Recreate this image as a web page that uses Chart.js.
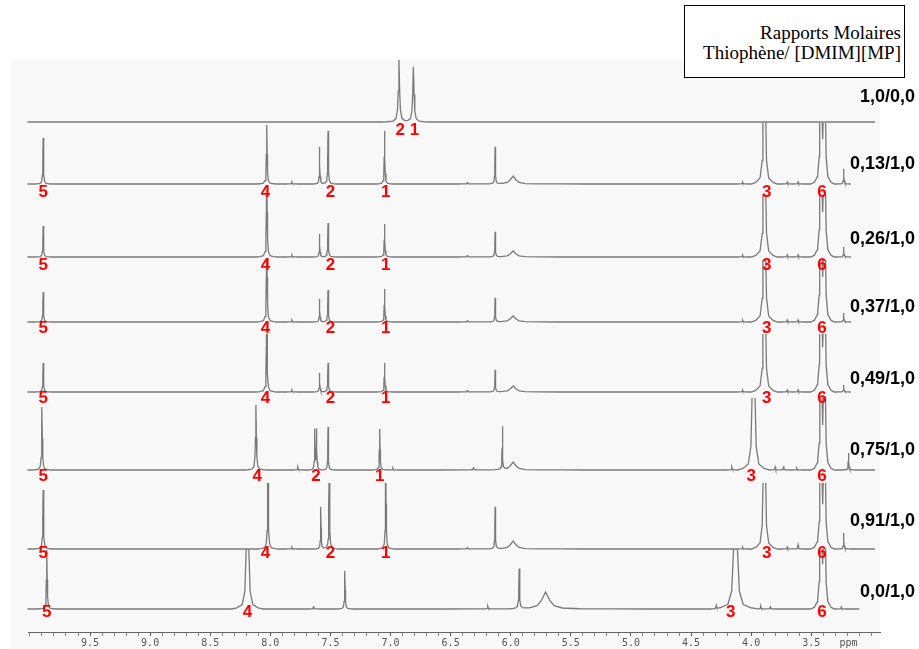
<!DOCTYPE html>
<html>
<head>
<meta charset="utf-8">
<script src="https://cdn.jsdelivr.net/npm/chart.js@4.4.1/dist/chart.umd.min.js"></script>
<style>
html,body{margin:0;padding:0;background:#fff;}
#wrap{position:relative;width:919px;height:649px;overflow:hidden;}
#c{position:absolute;left:0;top:0;}
#legend{position:absolute;left:684px;top:5px;width:221px;height:73px;box-sizing:border-box;border:1px solid #000;background:#fff;
  font-family:'Liberation Serif','Times New Roman',serif;font-size:19px;line-height:20px;text-align:right;padding:17px 3px 0 0;color:#000;white-space:nowrap;}
</style>
</head>
<body>
<div id="wrap">
<canvas id="c" width="919" height="649"></canvas>
<div id="legend">Rapports Molaires<br>Thiophène/ [DMIM][MP]</div>
</div>
<script>
// ---------------- DATA ----------------
// x-axis tick labels (ppm)
const ppmTickLabels = ['9.5','9.0','8.5','8.0','7.5','7.0','6.5','6.0','5.5','5.0','4.5','4.0','3.5'];
const ppmUnitLabel = 'ppm';
// molar ratio labels (thiophene / [DMIM][MP]), top to bottom
const ratioLabels = ['1,0/0,0','0,13/1,0','0,26/1,0','0,37/1,0','0,49/1,0','0,75/1,0','0,91/1,0','0,0/1,0'];

// peaks per spectrum: [chemical shift (ppm), intensity, line width FWHM (ppm)]
const peaks_1_0_0_0 = [[6.93,62,0.012],[6.81,55,0.012]];
const peaks_0_13_1_0 = [[9.89,46,0.006],[8.03,59,0.007],[7.82,2,0.006],[7.59,37,0.005],[7.52,53,0.006],[7.05,53,0.006],[6.36,2,0.006],[6.13,37,0.005],[5.98,8,0.05],[4.07,2,0.006],[3.89,400,0.009],[3.70,2,0.006],[3.61,2,0.006],[3.42,400,0.007],[3.39,400,0.007],[3.23,15,0.005]];
const peaks_0_26_1_0 = [[9.89,31,0.006],[8.03,90,0.007],[7.82,2,0.006],[7.59,23,0.005],[7.52,34,0.006],[7.05,33,0.006],[6.36,2,0.006],[6.13,25,0.005],[5.98,6,0.05],[4.07,2,0.006],[3.89,400,0.009],[3.70,2,0.006],[3.61,2,0.006],[3.42,400,0.007],[3.39,400,0.007],[3.23,10,0.005]];
const peaks_0_37_1_0 = [[9.89,30,0.006],[8.03,90,0.007],[7.82,2,0.006],[7.59,23,0.005],[7.52,32,0.006],[7.05,33,0.006],[6.36,2,0.006],[6.13,24,0.005],[5.98,6,0.05],[4.07,2,0.006],[3.89,400,0.009],[3.70,2,0.006],[3.61,2,0.006],[3.42,400,0.007],[3.39,400,0.007],[3.23,9,0.005]];
const peaks_0_49_1_0 = [[9.89,29,0.006],[8.03,90,0.007],[7.82,2,0.006],[7.59,19,0.005],[7.52,29,0.006],[7.05,29,0.006],[6.36,2,0.006],[6.13,22,0.005],[5.98,6,0.05],[4.07,2,0.006],[3.89,400,0.009],[3.70,2,0.006],[3.61,2,0.006],[3.42,400,0.007],[3.39,400,0.007],[3.23,7,0.005]];
const peaks_0_75_1_0 = [[9.90,63,0.007],[8.12,65,0.008],[7.77,3,0.006],[7.63,40,0.005],[7.615,40,0.005],[7.52,43,0.005],[7.09,41,0.006],[6.98,2,0.006],[6.31,3,0.006],[6.07,43,0.005],[5.98,8,0.05],[4.16,3,0.006],[3.98,400,0.011],[3.80,3,0.006],[3.73,4,0.006],[3.62,2,0.006],[3.42,400,0.007],[3.39,400,0.007],[3.19,17,0.005]];
const peaks_0_91_1_0 = [[9.89,59,0.007],[8.02,90,0.007],[7.82,2,0.006],[7.58,42,0.005],[7.51,90,0.006],[7.04,90,0.006],[6.36,2,0.006],[6.13,42,0.005],[5.98,8,0.05],[4.07,2,0.006],[3.89,400,0.009],[3.70,2,0.006],[3.61,4,0.006],[3.42,400,0.007],[3.39,400,0.007],[3.23,16,0.005]];
const peaks_0_0_1_0 = [[9.86,59,0.007],[8.19,300,0.011],[7.64,3,0.006],[7.38,38,0.006],[6.19,3,0.006],[5.93,40,0.007],[5.71,17,0.07],[4.29,3,0.006],[4.13,300,0.016],[3.92,3,0.006],[3.84,3,0.006],[3.42,400,0.007],[3.39,400,0.007],[3.25,2,0.006]];

// peak assignment labels per spectrum: [label, ppm]
const assign_1_0_0_0 = [['2',6.92],['1',6.80]];
const assign_0_13_1_0 = [['5',9.89],['4',8.04],['2',7.50],['1',7.04],['3',3.87],['6',3.41]];
const assign_0_26_1_0 = [['5',9.89],['4',8.04],['2',7.50],['1',7.04],['3',3.87],['6',3.41]];
const assign_0_37_1_0 = [['5',9.89],['4',8.04],['2',7.50],['1',7.04],['3',3.87],['6',3.41]];
const assign_0_49_1_0 = [['5',9.89],['4',8.04],['2',7.50],['1',7.04],['3',3.87],['6',3.41]];
const assign_0_75_1_0 = [['5',9.89],['4',8.11],['2',7.62],['1',7.09],['3',4.00],['6',3.41]];
const assign_0_91_1_0 = [['5',9.89],['4',8.04],['2',7.50],['1',7.04],['3',3.87],['6',3.41]];
const assign_0_0_1_0 = [['5',9.86],['4',8.19],['3',4.17],['6',3.41]];

// ---------------- LAYOUT ----------------
const SPECTRA = [peaks_1_0_0_0,peaks_0_13_1_0,peaks_0_26_1_0,peaks_0_37_1_0,peaks_0_49_1_0,peaks_0_75_1_0,peaks_0_91_1_0,peaks_0_0_1_0];
const ASSIGN = [assign_1_0_0_0,assign_0_13_1_0,assign_0_26_1_0,assign_0_37_1_0,assign_0_49_1_0,assign_0_75_1_0,assign_0_91_1_0,assign_0_0_1_0];
const ROW_OFFSET = [510,448,375,310,240,162,83,23];       // vertical stacking offset (y units)
const ROW_CLIP   = [Infinity,61,62,62,58,72,66,60];      // plot clipping height per trace
const ROW_START  = 10.02;
const ROW_END    = [2.97,3.17,3.17,3.17,3.17,2.97,2.97,3.10];
const LABEL_DY   = [8,8,8,6,6,6,4,3];                     // px below baseline
const RATIO_Y    = [535,468,393,325,253,182,111,40];      // y units for right-hand labels
const X_MIN = 2.928, X_MAX = 10.016, Y_MAX = 572;
const PPM_LABEL_POS = 3.19;

// Lorentzian-like vertex template for drawing a peak (offsets in units of FWHM)
const SHAPE_OFF = [-12,-8,-4,-2,-1,-0.5,0,0.5,1,2,4,8,12];
const SHAPE_REL = [0,0.004,0.015,0.059,0.2,0.5,1,0.5,0.2,0.059,0.015,0.004,0];

function peakAt(pk, x){
  const d = (x - pk[0]) / pk[2];
  if (d <= SHAPE_OFF[0] || d >= SHAPE_OFF[SHAPE_OFF.length-1]) return 0;
  for (let i=0;i<SHAPE_OFF.length-1;i++){
    if (d >= SHAPE_OFF[i] && d <= SHAPE_OFF[i+1]){
      const t = (d - SHAPE_OFF[i])/(SHAPE_OFF[i+1]-SHAPE_OFF[i]);
      return pk[1]*(SHAPE_REL[i] + t*(SHAPE_REL[i+1]-SHAPE_REL[i]));
    }
  }
  return 0;
}
function buildTrace(peaks, offset, clip, x0, x1){
  let xs = [x0, x1];
  peaks.forEach(pk => SHAPE_OFF.forEach(o => { const x = pk[0] + o*pk[2]; if (x < x0 && x > x1) xs.push(x); }));
  xs.sort((a,b)=>b-a);
  xs = xs.filter((x,i)=> i===0 || Math.abs(x - xs[i-1]) > 1e-9);
  const v = xs.map(x => ({x, y: peaks.reduce((s,pk)=> s + peakAt(pk,x), 0)}));
  const out = [];
  for (let i=0;i<v.length;i++){
    const a = v[i];
    if (i>0){
      const b = v[i-1];
      if ((b.y <= clip) !== (a.y <= clip)){
        const t = (clip - b.y)/(a.y - b.y);
        const xi = b.x + t*(a.x - b.x);
        out.push({x: xi, y: clip + offset});
        if (a.y > clip) out.push({x: xi, y: null});
      }
    }
    if (a.y <= clip) out.push({x: a.x, y: a.y + offset});
  }
  return out;
}

const datasets = SPECTRA.map((pk,i)=>({
  label: ratioLabels[i],
  data: buildTrace(pk, ROW_OFFSET[i], ROW_CLIP[i], ROW_START, ROW_END[i]),
  borderColor: '#7a7a7a',
  borderWidth: 1.3,
  pointRadius: 0,
  tension: 0,
  spanGaps: false,
  clip: false
}));

// tick values: minor every 0.1 ppm, labels every 0.5 ppm
const tickValues = [];
for (let k=100;k>=30;k--) tickValues.push(k/10);
tickValues.push(PPM_LABEL_POS);
const tickLabelMap = {};
ppmTickLabels.forEach(l => tickLabelMap[parseFloat(l).toFixed(2)] = l);
tickLabelMap[PPM_LABEL_POS.toFixed(2)] = ppmUnitLabel;

const decor = {
  id: 'decor',
  beforeDraw(chart){
    const ctx = chart.ctx;
    ctx.save();
    ctx.fillStyle = '#ffffff';
    ctx.fillRect(0,0,chart.width,chart.height);
    ctx.fillStyle = '#f8f8f8';
    ctx.fillRect(10,60,870,589);
    ctx.restore();
  },
  afterDatasetsDraw(chart){
    const {ctx, scales:{x, y}} = chart;
    ctx.save();
    ctx.font = 'bold 17px "Liberation Sans", Arial, sans-serif';
    ctx.fillStyle = '#ff0000';
    ctx.textAlign = 'center';
    ctx.textBaseline = 'middle';
    ASSIGN.forEach((labs,i)=>{
      const by = y.getPixelForValue(ROW_OFFSET[i]) + LABEL_DY[i];
      labs.forEach(([t,p]) => ctx.fillText(t, x.getPixelForValue(p), by));
    });
    ctx.font = 'bold 18px "Liberation Sans", Arial, sans-serif';
    ctx.fillStyle = '#000000';
    ctx.textAlign = 'right';
    ratioLabels.forEach((t,i)=> ctx.fillText(t, 915, y.getPixelForValue(RATIO_Y[i])));
    ctx.restore();
  }
};

new Chart(document.getElementById('c'), {
  type: 'line',
  data: { datasets },
  plugins: [decor],
  options: {
    responsive: false,
    devicePixelRatio: 1,
    animation: false,
    events: [],
    layout: { padding: { left: 28, right: 39, top: 60, bottom: 0 } },
    plugins: { legend: { display: false }, tooltip: { enabled: false } },
    scales: {
      x: {
        type: 'linear', reverse: true, min: X_MIN, max: X_MAX, position: 'bottom',
        afterBuildTicks(s){ s.ticks = tickValues.map(v => ({value: v})); },
        afterFit(s){ s.height = 17; },
        ticks: {
          autoSkip: false, maxRotation: 0, minRotation: 0, padding: 1,
          font: { family: '"DejaVu Sans Mono", monospace', size: 10 },
          color: '#555555',
          callback(v){ return tickLabelMap[Number(v).toFixed(2)] || ''; }
        },
        grid: {
          drawOnChartArea: false, drawTicks: true, tickLength: 4,
          tickColor(c){
            const v = c.tick ? c.tick.value : 0;
            if (Math.abs(v - PPM_LABEL_POS) < 1e-6) return 'rgba(0,0,0,0)';
            return tickLabelMap[Number(v).toFixed(2)] ? '#555555' : '#8a8a8a';
          }
        },
        border: { display: true, color: '#666666', width: 1 }
      },
      y: { type: 'linear', display: false, min: 0, max: Y_MAX }
    }
  }
});
</script>
</body>
</html>
